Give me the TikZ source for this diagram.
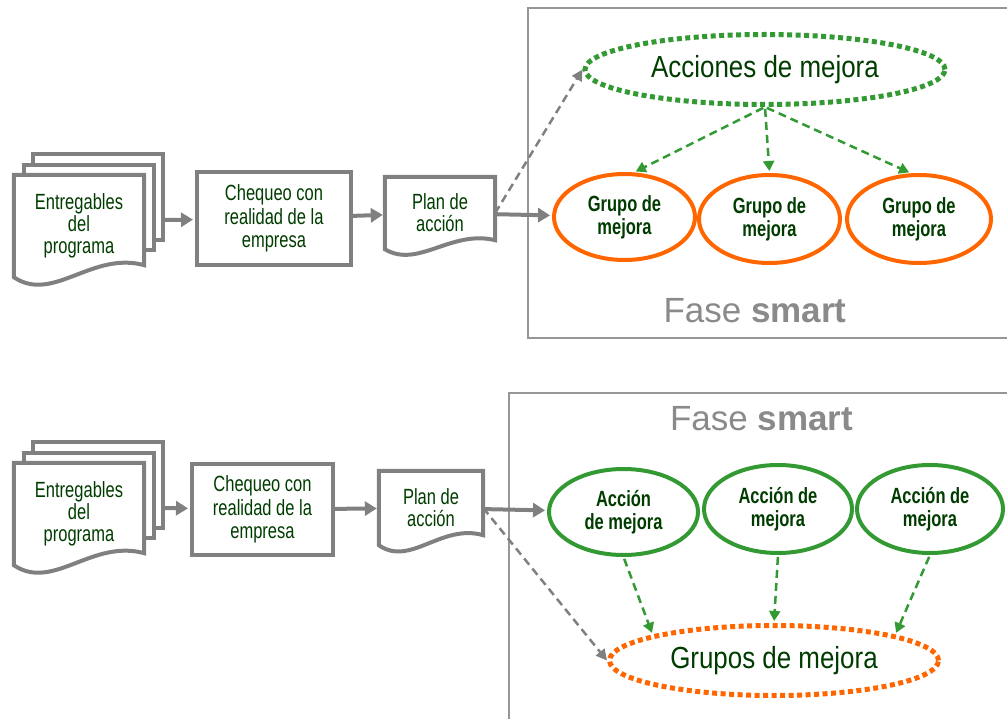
\documentclass[tikz,border=0pt]{standalone}
\usepackage{fontspec}
\setmainfont{Liberation Sans}
\newfontfamily\narrowfont{Liberation Sans}[FakeStretch=0.75]
\newfontfamily\widenarrowfont{Liberation Sans}[FakeStretch=0.85]
\usetikzlibrary{shapes.geometric,arrows.meta,calc}
\definecolor{flowgray}{RGB}{128,128,128}
\definecolor{framegray}{RGB}{150,150,150}
\definecolor{fasegray}{RGB}{138,138,138}
\definecolor{textgreen}{RGB}{0,60,0}
\definecolor{linegreen}{RGB}{51,153,51}
\definecolor{lineorange}{RGB}{255,102,0}
%% document outline with wavy bottom round node #2 (#1 = rise of right corner)
\providecommand{\docoutline}[2][10]{%
  \draw[docline] (#2.south west)
    .. controls ($(#2.south west)!0.3!(#2.south east)+(0,2.2*#1)$)
            and ($(#2.south west)!0.6!(#2.south east)+(0,-2.2*#1)$)
    .. ($(#2.south east)+(0,-#1)$) -- (#2.north east) -- (#2.north west) -- cycle;}
%% two sheets peeking out behind a document node
\providecommand{\sheetstack}[1]{%
  \draw[docline] ([shift={(10,0)}]#1.north west) -- ++(0,-10)
    -| ([shift={(10,-27)}]#1.south east) -- ++(-10,0);
  \draw[docline] ([shift={(19,-10)}]#1.north west) -- ++(0,-11)
    -| ([shift={(19,-37)}]#1.south east) -- ++(-9,0);}

\begin{document}
\begin{tikzpicture}[x=1pt, y=-1pt,
      docline/.style={draw=flowgray, line width=4pt},
      doc/.style={inner sep=0pt, align=center, text=textgreen,
                  font=\narrowfont\fontsize{22}{22}\selectfont},
      chk/.style={draw=flowgray, line width=4pt, inner sep=0pt,
                  align=center, text=textgreen,
                  font=\narrowfont\fontsize{22}{23.5}\selectfont},
      grp/.style={ellipse, line width=4pt, inner sep=0pt, align=center,
                  text=textgreen,
                  font=\narrowfont\bfseries\fontsize{22}{23}\selectfont},
      dotring/.style={ellipse, line width=5pt, dash pattern=on 5pt off 3.5pt,
                  inner sep=0pt, text=textgreen,
                  font=\widenarrowfont\fontsize{30.5}{36}\selectfont},
      flow/.style={flowgray, line width=4pt, shorten >=2pt,
                  -{Triangle[length=12pt,width=14pt]}},
      hint/.style={flowgray, line width=2.5pt, dash pattern=on 8pt off 5pt,
                  -{Triangle[length=11pt,width=11pt]}},
      link/.style={linegreen, line width=2.5pt, dash pattern=on 8pt off 5pt,
                  shorten <=2pt, shorten >=2pt,
                  -{Triangle[length=10pt,width=11pt]}},
      fase/.style={text=fasegray, font=\fontsize{35}{40}\selectfont, anchor=base},
      fasebox/.style={draw=framegray, line width=1.5pt},
    ]
    \useasboundingbox (0,0) rectangle (1007,719);

    %% ---------------- top: actions first, then groups
    \draw[fasebox] (1007,8) -- (528,8) -- (528,338) -- (1007,338);
    \node[fase] (fase1) at (755,323) {Fase \textbf{smart}};

    \node[doc, minimum width=130pt, minimum height=102pt] (docA) at (79,226)
      {Entregables\\del\\programa};
    \sheetstack{docA}
    \docoutline[12]{docA}
    \node[chk, minimum width=154pt, minimum height=93pt] (chk1) at (274,218.5)
      {Chequeo con\\realidad de la\\empresa};
    \node[doc, minimum width=110pt, minimum height=72pt] (plan1) at (440,213)
      {Plan de\\acción};
    \docoutline[9]{plan1}

    \node[dotring, draw=linegreen, minimum width=360pt, minimum height=70pt]
      (acc) at (765,69.5) {Acciones de mejora};
    \node[grp, draw=lineorange, minimum width=141pt, minimum height=86pt]
      (g1) at (624.5,217) {Grupo de\\mejora};
    \node[grp, draw=lineorange, minimum width=141pt, minimum height=88pt]
      (g2) at (769.5,219) {Grupo de\\mejora};
    \node[grp, draw=lineorange, minimum width=144pt, minimum height=88pt]
      (g3) at (919,219) {Grupo de\\mejora};

    \coordinate (stackA) at ([shift={(19,-6)}]docA.east);
    \draw[flow] (stackA) -- (chk1);
    \draw[flow] (chk1) -- (plan1);
    \draw[flow] (plan1) -- (g1);
    \draw[hint] (plan1.east) -- (acc.west);
    \foreach \g/\a in {g1/78, g2/90, g3/100}
      \draw[link] (acc.south) -- (\g.\a);

    %% ---------------- bottom: groups gather the actions
    \draw[fasebox] (1007,393) -- (509,393) -- (509,719);
    \node[fase] (fase2) at (761.5,430) {Fase \textbf{smart}};

    \node[doc, minimum width=130pt, minimum height=102pt] (docB) at (79,514)
      {Entregables\\del\\programa};
    \sheetstack{docB}
    \docoutline[12]{docB}
    \node[chk, minimum width=141pt, minimum height=91pt] (chk2) at (262.5,509.5)
      {Chequeo con\\realidad de la\\empresa};
    \node[doc, minimum width=104pt, minimum height=74pt] (plan2) at (431,508)
      {Plan de\\acción};
    \docoutline[10]{plan2}

    \node[grp, draw=linegreen, minimum width=149pt, minimum height=86pt]
      (a1) at (623.5,512) {Acción\\de mejora};
    \node[grp, draw=linegreen, minimum width=148pt, minimum height=88pt]
      (a2) at (778,509) {Acción de\\mejora};
    \node[grp, draw=linegreen, minimum width=146pt, minimum height=88pt]
      (a3) at (930,509) {Acción de\\mejora};
    \node[dotring, draw=lineorange, minimum width=329pt, minimum height=70pt]
      (grps) at (774,660.5) {Grupos de mejora};

    \coordinate (stackB) at ([shift={(19,-6)}]docB.east);
    \draw[flow] (stackB) -- (chk2);
    \draw[flow] (chk2) -- (plan2);
    \draw[flow] (plan2) -- (a1);
    \draw[hint] (plan2.east) -- (grps.west);
    \foreach \a/\b in {a1/168, a2/90, a3/12}
      \draw[link] (\a.south) -- (grps.\b);
\end{tikzpicture}
\end{document}
